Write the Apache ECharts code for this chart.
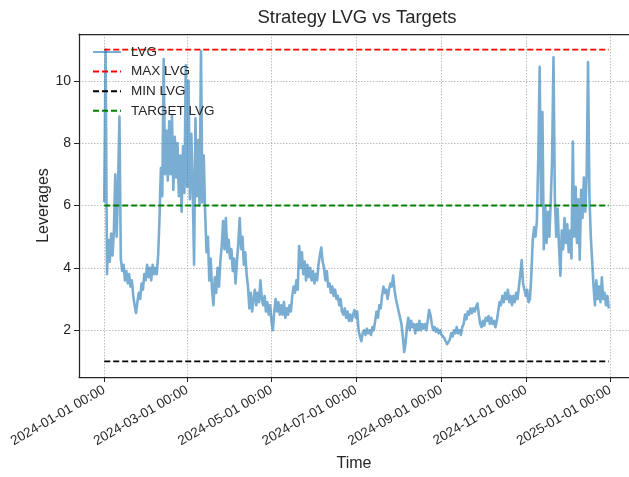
<!DOCTYPE html>
<html>
<head>
<meta charset="utf-8">
<script src="https://cdn.jsdelivr.net/npm/echarts@6/dist/echarts.min.js"></script>
<style>
  html, body { margin: 0; padding: 0; background: #fff; overflow: hidden; }
  #chart { width: 629px; height: 477px; }
</style>
</head>
<body>
<div id="chart"></div>
<script>
// daily leverage readings, 2024-01-01 .. 2024-12-31
const startDay = Date.UTC(2024, 0, 1);
const DAY = 86400000;
const lvg = [
  // jan
  6.1, 11.0, 3.8, 4.9, 4.2, 5.1, 4.4, 5.2, 7.0, 5.0, 6.6, 8.85, 4.3, 3.9, 4.1, 3.6,
  3.9, 3.5, 3.8, 3.4, 3.6, 3.1, 2.8, 2.55, 2.9, 3.2, 3.0, 3.5, 3.3, 3.8, 3.6,
  // feb
  4.1, 3.7, 4.0, 3.6, 4.1, 3.8, 4.0, 3.8, 4.4, 5.6, 7.2, 6.3, 10.7, 7.0, 8.4,
  6.8, 8.7, 7.0, 8.9, 6.5, 8.2, 6.9, 8.0, 6.3, 7.6, 5.8, 7.9, 6.4, 10.5,
  // mar
  6.6, 10.0, 6.2, 8.3, 6.6, 4.1, 8.8, 6.3, 8.1, 6.0, 10.95, 6.1, 7.6, 5.8, 4.5,
  5.0, 3.6, 4.3, 3.3, 2.8, 3.7, 3.2, 4.0, 3.4, 4.2, 4.7, 5.5, 4.6, 5.6, 4.5, 4.9,
  // apr
  4.3, 4.6, 3.9, 4.3, 3.5, 4.2, 4.8, 5.6, 4.6, 5.0, 4.1, 4.5, 3.8, 3.4, 2.7,
  3.2, 2.6, 3.0, 3.3, 2.8, 3.2, 2.9, 3.6, 3.0, 2.8, 3.1, 2.6, 2.9, 2.5, 2.8,
  // may
  2.3, 2.0, 2.6, 3.0, 2.6, 2.9, 2.5, 2.8, 2.5, 2.9, 2.4, 2.7, 2.5, 2.8, 2.6, 3.1,
  3.4, 3.2, 3.6, 3.3, 4.7, 4.0, 4.5, 3.8, 4.2, 3.6, 4.1, 3.7, 4.0, 3.6, 3.9,
  // jun
  3.5, 3.8, 3.6, 4.1, 4.4, 4.65, 4.2, 4.0, 3.6, 3.9, 3.4, 3.5, 3.2, 3.4, 3.1,
  3.3, 3.0, 3.1, 2.8, 3.0, 2.6, 2.5, 2.7, 2.4, 2.6, 2.3, 2.5, 2.3, 2.5, 2.65,
  // jul
  2.4, 2.6, 2.0, 1.8, 1.65, 1.9, 2.0, 1.85, 2.05, 1.9, 2.0, 1.85, 2.1, 2.0, 2.3,
  2.6, 2.4, 2.8, 2.7, 3.1, 3.4, 3.2, 3.3, 3.0, 3.3, 3.5, 3.4, 3.75, 3.3, 3.0, 2.8,
  // aug
  2.6, 2.4, 2.2, 1.8, 1.3, 1.6, 2.1, 2.4, 2.0, 2.3, 2.1, 2.2, 1.9, 2.2, 2.0, 2.3,
  2.0, 2.2, 2.05, 2.2, 2.0, 2.3, 2.65, 2.5, 2.2, 2.0, 2.1, 1.95, 2.05, 1.9, 2.0,
  // sep
  1.85, 1.9, 1.75, 1.7, 1.55, 1.5, 1.7, 1.9, 1.8, 2.0, 1.9, 2.1, 1.9, 2.0, 1.85,
  2.1, 2.2, 2.5, 2.35, 2.6, 2.5, 2.7, 2.55, 2.7, 2.6, 2.75, 2.86, 2.5, 2.2, 2.1,
  // oct
  2.3, 2.15, 2.4, 2.3, 2.45, 2.2, 2.4, 2.2, 2.3, 2.1, 2.3, 2.6, 2.9, 2.8, 3.1, 2.9,
  3.2, 3.0, 3.3, 2.9, 3.1, 2.8, 3.1, 2.9, 3.2, 3.0, 3.4, 3.8, 4.25, 3.5, 3.3,
  // nov
  3.1, 3.3, 2.9, 3.0, 3.8, 4.9, 5.3, 5.0, 5.5, 7.5, 10.45, 6.0, 9.0, 4.6, 6.0,
  4.8, 5.8, 5.0, 6.1, 7.5, 10.75, 6.2, 5.0, 5.9, 4.7, 3.75, 5.2, 4.6, 5.6, 4.8,
  // dec
  5.4, 4.5, 5.2, 4.3, 8.05, 5.0, 6.6, 4.8, 6.2, 4.26, 6.5, 5.6, 6.9, 5.8, 7.0, 10.6,
  6.3, 5.0, 4.2, 3.4, 2.8, 3.6, 3.0, 3.4, 2.9, 3.7, 3.0, 3.2, 2.8, 3.1, 2.7
];
const maxLvg = 11;
const minLvg = 1;
const targetLvg = 6;
const tickDates = ['2024-01-01', '2024-03-01', '2024-05-01', '2024-07-01', '2024-09-01', '2024-11-01', '2025-01-01'];
const yTicks = [2, 4, 6, 8, 10];

const lvgData = lvg.map((v, i) => [startDay + i * DAY, v]);
const endDay = startDay + (lvg.length - 1) * DAY;
const tickValues = tickDates.map(d => Date.parse(d + 'T00:00:00Z'));
const pad = (endDay - startDay) * 0.05;
const flat = v => [[startDay, v], [endDay, v]];
// the original axes run past the right edge of the picture, so cut the range at the edge
const xMin = startDay - pad;
const xMax = xMin + (endDay - startDay + 2 * pad) * 550 / 555;

const font = 'Liberation Sans, Arial, sans-serif';
const ink = '#262626';

var myChart = echarts.init(document.getElementById('chart'), null, { renderer: 'canvas' });

var option = {
  animation: false,
  textStyle: { fontFamily: font },
  title: {
    text: 'Strategy LVG vs Targets',
    left: 357,
    top: 8,
    padding: 0,
    textAlign: 'center',
    textStyle: { fontFamily: font, fontSize: 18.5, fontWeight: 'normal', color: ink }
  },
  legend: {
    orient: 'vertical',
    left: 92,
    top: 45,
    padding: 0,
    itemWidth: 28,
    itemHeight: 14,
    itemGap: 5.6,
    itemStyle: { opacity: 0 },
    textStyle: { fontFamily: font, fontSize: 13.5, color: ink, lineHeight: 14, padding: [0, 0, 0, 5] },
    data: ['LVG', 'MAX LVG', 'MIN LVG', 'TARGET LVG']
  },
  grid: {
    left: 79,
    top: 34,
    right: 0,
    bottom: 95
  },
  xAxis: [
    {
      type: 'value',
      min: xMin,
      max: xMax,
      name: 'Time',
      nameLocation: 'middle',
      nameGap: 79,
      nameMoveOverlap: false,
      nameTextStyle: { fontFamily: font, fontSize: 16, color: ink },
      axisLine: { show: true, lineStyle: { color: ink, width: 1.25 } },
      axisTick: { show: true, length: 5, customValues: tickValues, lineStyle: { color: ink, width: 1 } },
      axisLabel: {
        customValues: tickValues,
        rotate: 30,
        margin: 12,
        fontFamily: font,
        fontSize: 13.5,
        color: ink,
        formatter: v => echarts.time.format(v, '{yyyy}-{MM}-{dd} 00:00', true)
      },
      splitLine: { show: true, lineStyle: { color: '#b0b0b0', width: 0.8, type: [1.5, 1.5] } }
    },
    {
      // top frame line
      type: 'value',
      position: 'top',
      min: xMin,
      max: xMax,
      axisLine: { show: true, lineStyle: { color: ink, width: 1.25 } },
      axisTick: { show: false },
      axisLabel: { show: false },
      splitLine: { show: false }
    }
  ],
  yAxis: {
    type: 'value',
    min: 0.5,
    max: 11.5,
    name: 'Leverages',
    nameLocation: 'middle',
    nameGap: 27,
    nameMoveOverlap: false,
    nameTextStyle: { fontFamily: font, fontSize: 16, color: ink },
    axisLine: { show: true, lineStyle: { color: ink, width: 1.25 } },
    axisTick: { show: true, length: 5, customValues: yTicks, lineStyle: { color: ink, width: 1 } },
    axisLabel: { customValues: yTicks, margin: 8, fontFamily: font, fontSize: 14, color: ink },
    splitLine: { show: true, lineStyle: { color: '#b0b0b0', width: 0.8, type: [1.5, 1.5] } }
  },
  series: [
    {
      name: 'LVG',
      type: 'line',
      symbol: 'none',
      data: lvgData,
      lineStyle: { color: '#1f77b4', width: 2.6, opacity: 0.6, join: 'round' },
      itemStyle: { color: '#1f77b4', opacity: 0.6 }
    },
    {
      name: 'MAX LVG',
      type: 'line',
      symbol: 'none',
      data: flat(maxLvg),
      lineStyle: { color: '#ff0000', width: 1.8, type: [6, 3] },
      itemStyle: { color: '#ff0000' }
    },
    {
      name: 'MIN LVG',
      type: 'line',
      symbol: 'none',
      data: flat(minLvg),
      lineStyle: { color: '#000000', width: 1.8, type: [6, 3] },
      itemStyle: { color: '#000000' }
    },
    {
      name: 'TARGET LVG',
      type: 'line',
      symbol: 'none',
      data: flat(targetLvg),
      lineStyle: { color: '#008000', width: 1.8, type: [6, 3] },
      itemStyle: { color: '#008000' }
    }
  ]
};

option && myChart.setOption(option);
</script>
</body>
</html>
